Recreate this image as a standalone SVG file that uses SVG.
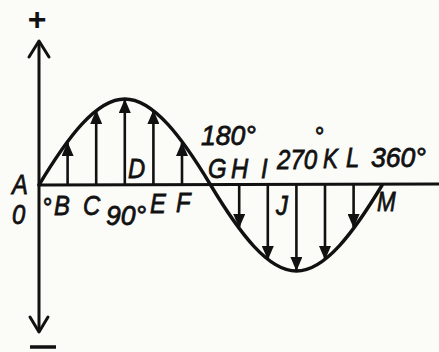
<svg xmlns="http://www.w3.org/2000/svg" width="439" height="352" viewBox="0 0 439 352">
  <defs>
    <style>
      .ax { stroke:#111; stroke-width:3; fill:none; stroke-linecap:round; stroke-linejoin:round; }
      .curve { stroke:#111; stroke-width:3.4; fill:none; stroke-linecap:round; }
      .vec { stroke:#111; stroke-width:2.6; fill:none; marker-end:url(#head); }
      .lbl { font-family:"Liberation Sans", Arial, sans-serif; font-style:italic; font-size:28px; fill:#111; stroke:#111; stroke-width:0.8px; }
      .sym { font-family:"Liberation Sans", Arial, sans-serif; font-weight:bold; fill:#111; }
    </style>
    <marker id="head" viewBox="0 0 14 12" refX="13" refY="6" markerWidth="14" markerHeight="12" markerUnits="userSpaceOnUse" orient="auto">
      <path d="M0,0 L14,6 L0,12 z" fill="#111"/>
    </marker>
  </defs>
  <rect width="439" height="352" fill="#fbfbf8"/>

  <g id="axes">
    <line class="ax" x1="39" y1="42" x2="39" y2="331"/>
    <polyline class="ax" points="29,57 39,41 49,57" stroke-width="3.5"/>
    <polyline class="ax" points="30,317 39,332 48,317" stroke-width="4"/>
    <line class="ax" x1="39" y1="185" x2="439" y2="184" stroke-linecap="butt"/>
  </g>

  <g id="signs">
    <text class="sym" x="37" y="30" font-size="32" text-anchor="middle">+</text>
    <line x1="30" y1="347" x2="56" y2="347" stroke="#111" stroke-width="3.5"/>
  </g>

  <g id="wave">
    <path class="curve" d="M39,185 C67.6,137.5 96.2,99 124.8,99 C153.4,99 182,137.5 210.6,185 C239.2,232.5 267.8,271 296.4,271 C325,271 353.6,232.5 382.2,185"/>
  </g>

  <g id="connectors">
    <line class="vec" x1="67.6" y1="185" x2="67.6" y2="143"/>
    <line class="vec" x1="96.2" y1="185" x2="96.2" y2="111"/>
    <line class="vec" x1="124.8" y1="185" x2="124.8" y2="100"/>
    <line class="vec" x1="153.4" y1="185" x2="153.4" y2="111"/>
    <line class="vec" x1="182" y1="185" x2="182" y2="143"/>
    <line class="vec" x1="239.2" y1="185" x2="239.2" y2="227"/>
    <line class="vec" x1="267.8" y1="185" x2="267.8" y2="259"/>
    <line class="vec" x1="296.4" y1="185" x2="296.4" y2="270"/>
    <line class="vec" x1="325" y1="185" x2="325" y2="259"/>
    <line class="vec" x1="353.6" y1="185" x2="353.6" y2="227"/>
  </g>

  <g id="labels">
    <text class="lbl" transform="translate(12,194) scale(0.85,1)">A</text>
    <text class="lbl" transform="translate(12,224) scale(0.85,1)">0</text>
    <text class="lbl" transform="translate(42,217) scale(0.85,1)">°</text>
    <text class="lbl" transform="translate(54,215) scale(0.85,1)">B</text>
    <text class="lbl" transform="translate(83,215) scale(0.85,1)">C</text>
    <text class="lbl" transform="translate(106,225) scale(0.95,1)">90°</text>
    <text class="lbl" transform="translate(150,213) scale(0.85,1)">E</text>
    <text class="lbl" transform="translate(176,212) scale(0.85,1)">F</text>
    <text class="lbl" transform="translate(128,178) scale(0.85,1)">D</text>
    <text class="lbl" transform="translate(201,145) scale(0.95,1)">180°</text>
    <text class="lbl" transform="translate(208,178) scale(0.85,1)">G</text>
    <text class="lbl" transform="translate(231,178) scale(0.85,1)">H</text>
    <text class="lbl" transform="translate(261,178) scale(0.85,1)">I</text>
    <text class="lbl" transform="translate(277,169) scale(0.86,1)">270</text>
    <text class="lbl" font-size="20" transform="translate(314,146) scale(0.85,1)">°</text>
    <text class="lbl" transform="translate(323,168) scale(0.8,1)">K</text>
    <text class="lbl" transform="translate(346,167) scale(0.85,1)">L</text>
    <text class="lbl" transform="translate(371,167) scale(0.95,1)">360°</text>
    <text class="lbl" transform="translate(276,215) scale(0.85,1)">J</text>
    <text class="lbl" font-size="24" transform="translate(377,211) scale(0.8,1)">M</text>
  </g>
</svg>
